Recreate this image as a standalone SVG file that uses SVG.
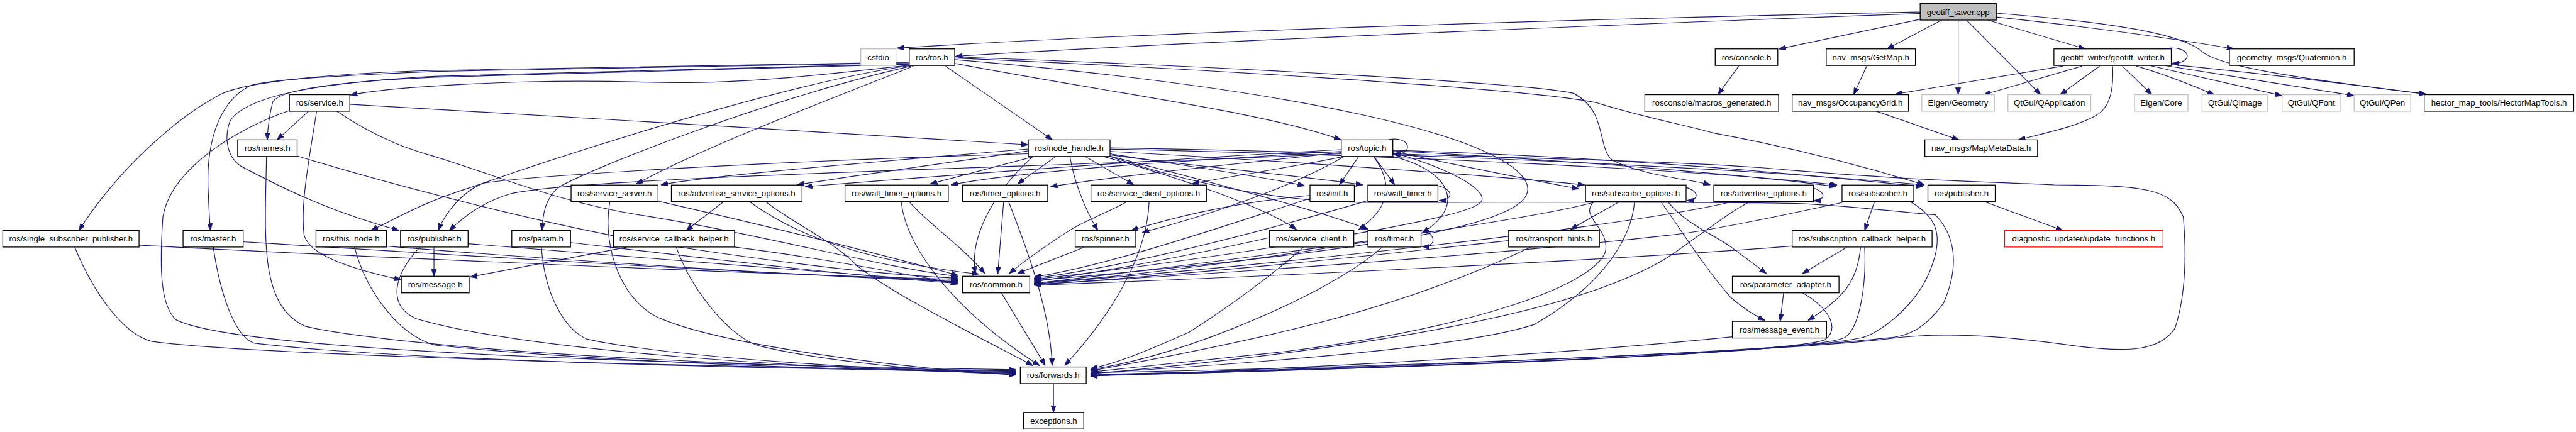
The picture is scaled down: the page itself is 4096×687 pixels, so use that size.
<svg xmlns="http://www.w3.org/2000/svg" width="4096" height="687" viewBox="0 0 4096 687">
<style>
.n rect{fill:#fff;stroke:#000;stroke-width:1.4}
.n.g rect{stroke:#bfbfbf}
.n.r rect{stroke:#ff0000}
.n.root rect{fill:#bfbfbf}
.n text{font-family:"Liberation Sans",Arial,sans-serif;font-size:14.2px;text-anchor:middle;fill:#000}
#edges path{fill:none;stroke:#191970;stroke-width:1.25;marker-end:url(#a)}
</style>
<defs>
<marker id="a" viewBox="0 0 12 9" refX="12" refY="4.5" markerWidth="12" markerHeight="9" markerUnits="userSpaceOnUse" orient="auto"><path d="M0,0L12,4.5L0,9z" fill="#191970" stroke="#191970" stroke-width="0.8"/></marker>
</defs>
<rect width="4096" height="687" fill="#fff"/>
<g transform="scale(0.93324)">
<g id="edges">
<path d="M3271.6,20.5 C2800,30 2000,52 1528,82"/>
<path d="M3271.6,23 C2800,40 2000,72 1628,96"/>
<path d="M3271.6,33 L3031,83.5"/>
<path d="M3308,34.3 L3215,83.3"/>
<path d="M3336.3,34.3 L3336.3,161.3"/>
<path d="M3350.5,34.3 L3477,161.3"/>
<path d="M3387,34.3 L3553,83.3"/>
<path d="M3401.3,29 C3550,45 3700,65 3806,83.3"/>
<path d="M3401.3,22.5 C3620,40 3720,60 3752,88 C3780,112 3900,132 4133,160"/>
<path d="M3699.5,110 C3850,125 4000,143 4133,160.5"/>
<path d="M3682,83.3 C3735,74 3740,108 3701,108"/>
<path d="M3514.6,112.7 L3229,160.5"/>
<path d="M3547.6,112.7 L3380,161.3"/>
<path d="M3577.4,112.7 L3510,161.3"/>
<path d="M3599.5,112.7 C3602,160 3592,185 3571,197 C3540,215 3480,228 3439,238.3"/>
<path d="M3616,112.7 L3666.5,161.3"/>
<path d="M3640,112.7 C3700,130 3745,150 3773,161.3"/>
<path d="M3664,112 L3888,163"/>
<path d="M3690,112 L4011,163"/>
<path d="M2962.5,112.7 L2927,161.3"/>
<path d="M3180.5,112.7 L3158.3,161.3"/>
<path d="M3196,189.3 L3337.6,238.3"/>
<path d="M1549.2,106 C1200,113 900,117 740,120 C560,125 420,140 377.5,160 C300,200 200,290 134.5,392.7"/>
<path d="M1549.2,107 C1200,114 900,118 740,121.7 C600,128 450,135 424.7,146.7 C370,175 350,250 355,330 C356,360 357,375 358.6,392.7"/>
<path d="M1549.2,108.5 C1200,118 900,126 740,130 C560,140 420,160 391.7,206.7 C380,240 390,270 410.6,283.3 C480,320 560,360 680,392.7"/>
<path d="M1549.2,109.5 C1200,120 900,127 740,131.7 C600,138 480,150 464.8,173.3 C458,200 456,220 455.4,238.3"/>
<path d="M1549.2,111 C1400,128 1250,145 1100,140 C950,136 850,140 740,146.7 C680,150 630,156 597,161.7"/>
<path d="M1549.2,112 C1350,140 1000,250 800,320 C720,345 680,370 632,392.7"/>
<path d="M1552,112.7 C1300,170 1000,290 950,320 C930,340 925,360 923.5,392.7"/>
<path d="M1556,112.7 C1400,175 1200,250 1084,313.5"/>
<path d="M1611,112.7 L1793,238.3"/>
<path d="M1626.6,108 C1900,160 2150,190 2285,238.3"/>
<path d="M1626.6,101.7 C2200,150 2560,230 2600,310 C2630,370 2450,420 1762,478"/>
<path d="M1626.6,97 C2000,110 2600,140 2681,159 C2740,190 2720,250 2747,273 C2800,300 2880,305 2914,315"/>
<path d="M1626.6,99 C2000,115 2600,150 2720,175 C2800,200 2880,215 2920,226.7 C3100,260 3230,300 3279,315"/>
<path d="M525.2,190 L472,238.3"/>
<path d="M493.1,188.3 C400,220 290,290 277.5,370 C272,450 272,520 300,545 C380,585 800,615 1731,630"/>
<path d="M539.4,190 C525,280 512,350 518,400 C525,425 560,450 683.8,477"/>
<path d="M596,177.7 C900,195 1400,225 1752,246.7"/>
<path d="M573.4,189.3 C650,240 700,255 740,266.7 C850,300 950,345 1100,368 C1300,400 1500,455 1632,471"/>
<path d="M506.3,265.7 C650,310 950,390 1150,420 C1350,450 1500,468 1632,474"/>
<path d="M454,266.7 C452,400 440,520 520,556 C620,580 1000,620 1731,632"/>
<path d="M236.9,417.7 C500,432 1300,468 1632,476"/>
<path d="M127.4,421.3 C160,500 210,570 259.5,582 C400,600 900,620 1731,633"/>
<path d="M414.3,412 C700,430 1300,468 1632,478"/>
<path d="M363.4,421.3 C375,500 400,575 434,585 C600,605 1000,624 1731,634"/>
<path d="M658.3,419.3 C900,440 1400,472 1632,480"/>
<path d="M604,421.3 C625,500 680,570 740,588 C1000,615 1400,630 1731,635"/>
<path d="M739.4,421.3 L739.4,470.7"/>
<path d="M797.5,415.3 C1000,430 1400,465 1632,481"/>
<path d="M715,421.3 C670,470 660,520 708,542.7 C900,600 1400,630 1731,636"/>
<path d="M972.1,413.3 C1200,440 1450,470 1632,483"/>
<path d="M922.5,421.3 C928,500 960,560 1000,578 C1150,610 1500,630 1731,637"/>
<path d="M1067.4,421.3 L800.8,472"/>
<path d="M1251.5,421 C1400,440 1550,468 1632,484"/>
<path d="M1152.3,421.3 C1180,500 1250,580 1296,590 C1400,615 1600,635 1731,638"/>
<path d="M1121.2,342.7 C1250,372 1450,420 1632,469"/>
<path d="M1039,344 C1025,420 1060,520 1131,545 C1230,585 1500,625 1731,639"/>
<path d="M1232.6,344 L1169,392.7"/>
<path d="M1277.4,344 C1320,375 1420,440 1667.6,467"/>
<path d="M1305,344 C1350,380 1420,410 1460,452.7 C1520,500 1640,560 1760,623"/>
<path d="M1549.7,344 C1580,380 1640,420 1678,466"/>
<path d="M1535.5,344 C1545,430 1640,540 1771.4,623"/>
<path d="M1710,344 L1700,467"/>
<path d="M1718.6,344 C1760,450 1790,540 1792.7,623"/>
<path d="M1920,344 C1880,365 1840,380 1818.6,395 C1780,420 1745,445 1719.5,466"/>
<path d="M1957.8,344 C1955,430 1900,530 1813.9,623"/>
<path d="M1847,421.3 L1733.7,466"/>
<path d="M1706,498.7 L1781,623"/>
<path d="M1795,653.3 L1795,702.7"/>
<path d="M1823,266.7 C1830,310 1850,360 1870.6,392.7"/>
<path d="M1752.1,254 C1500,275 1200,300 1126,315"/>
<path d="M1752.1,257 C1600,280 1450,300 1358,315"/>
<path d="M1762,266.7 L1585,313.3"/>
<path d="M1799,266.7 L1733.7,313.3"/>
<path d="M1849,266.7 L1932,315"/>
<path d="M1752.1,262 C1300,275 900,300 824,312 C790,325 760,360 746.5,392.7"/>
<path d="M1891.3,262 C2000,280 2150,300 2223,316.7"/>
<path d="M1891.3,264 C2050,285 2220,300 2322,315"/>
<path d="M1891.3,258 C2200,275 2550,300 2700,315"/>
<path d="M1891.3,254 C2400,265 2900,290 3130,315"/>
<path d="M1891.3,252 C2500,262 3000,290 3278,315"/>
<path d="M1880,266.7 C2000,300 2150,350 2209,391"/>
<path d="M1891.3,266 C2100,320 2250,360 2331.6,391"/>
<path d="M1760,266.7 C1700,320 1650,400 1662,466"/>
<path d="M1891.3,266.7 C2050,320 2200,345 2330,345 C2600,345 2900,343 3061,346.7 C3150,350 3220,360 3297.5,366 C3330,400 3340,450 3311.7,516 C3280,560 3250,575 3212.6,576 C3000,600 2400,625 1858,639"/>
<path d="M2315,266.7 L2282,315"/>
<path d="M2341,266.7 L2376.4,315"/>
<path d="M2364.6,238.3 C2405,230 2410,265 2374,263"/>
<path d="M2285.3,255 C2000,270 1600,300 1372,318"/>
<path d="M2285.3,258 C2000,275 1750,290 1620,315"/>
<path d="M2285.3,260 C2100,280 1900,300 1790,318"/>
<path d="M2290,266.7 C2200,285 2100,300 2031,313"/>
<path d="M2285.3,262 C1800,285 1000,300 870,330 C820,345 790,370 765.4,392.7"/>
<path d="M2373.1,258 C2500,285 2600,305 2690,321.7"/>
<path d="M2373.1,257 C2700,275 3000,300 3128,318"/>
<path d="M2373.1,256 C2800,270 3100,300 3276,318"/>
<path d="M2340,266.7 C2380,320 2360,360 2315,391"/>
<path d="M2373.1,266.7 C2470,290 2500,350 2423,397"/>
<path d="M2373.1,260 C2480,290 2545,330 2520,347 C2480,380 2000,450 1762,476"/>
<path d="M2373.1,262 C2600,270 2900,275 3050,290 C3300,310 3400,310 3500,315 C3650,316 3700,320 3720,370 C3725,430 3725,500 3706,559 C3680,600 3620,600 3540,590 C3400,570 3300,565 3203,579 C3000,600 2400,625 1858,635"/>
<path d="M2290,266.7 C2200,320 2050,370 1946,396"/>
<path d="M2232,338 C2100,380 1900,450 1762,472"/>
<path d="M2232,333 C2100,345 2000,370 1927,392.7"/>
<path d="M2433,315.3 C2478,315 2480,342 2452,341.7"/>
<path d="M2331,341.7 C2200,380 1950,450 1762,474"/>
<path d="M2162.7,405 C2050,430 1900,460 1762,480"/>
<path d="M2220.7,421.3 C2200,440 2130,500 2026,566 C1950,600 1900,620 1858,628"/>
<path d="M2405,392.7 C2448,388 2452,422 2423,420"/>
<path d="M2355,421.3 C2300,470 2200,520 2100,560 C2000,600 1920,620 1858,630"/>
<path d="M2330.6,412 C2150,440 1950,470 1762,482"/>
<path d="M2570.4,410 C2300,440 2000,470 1762,485"/>
<path d="M2607.6,421.3 C2400,520 2200,570 1858,632"/>
<path d="M2841,315.3 C2898,316 2900,342 2874,341.7"/>
<path d="M2758.6,344 C2740,355 2720,365 2676,391"/>
<path d="M2842,344 C2870,380 2920,400 2948,420 C2975,440 2995,455 3009.7,466"/>
<path d="M2830,344 C2870,400 2900,450 2948,506 C2975,530 2995,540 3007,546"/>
<path d="M2719,344 C2624,370 2300,420 1762,483"/>
<path d="M2715,344 C2690,370 2745,390 2735,430 C2710,490 2500,560 2190,599 C2000,620 1900,630 1858,634"/>
<path d="M2785,344 C2780,400 2740,480 2614,553 C2500,590 2200,615 1858,636"/>
<path d="M3058,315.3 C3115,318 3115,342 3090,342"/>
<path d="M2950,344 C2800,380 2300,440 1762,484"/>
<path d="M2981,344 C2950,360 2930,376 2850,433 C2750,500 2500,580 1858,637"/>
<path d="M3193.7,344 L3177,392.7"/>
<path d="M3139,345 C3024,370 2900,395 2850,400 C2500,440 2000,470 1762,485"/>
<path d="M3255,344 C3300,370 3310,400 3293,449 C3270,520 3200,570 3170,576 C3050,600 2500,625 1858,638"/>
<path d="M3382,344 L3514.6,392.7"/>
<path d="M3146.5,421.3 L3071,466"/>
<path d="M3170,421.3 C3165,480 3140,509 3080.4,546"/>
<path d="M3177,421.3 C3180,480 3170,560 3141.8,576 C3080,600 2500,625 1858,640"/>
<path d="M3053.5,419.3 C2800,440 2200,470 1762,486"/>
<path d="M3039,498.7 L3033,547.7"/>
<path d="M3071,498.7 C3118,526 3135,560 3108.8,579.3 C3050,600 2500,625 1858,640"/>
<path d="M2951.6,574 C2700,600 2300,625 1858,641"/>
</g>
<g id="n-geotiff_saver" class="n root"><rect x="3271.6" y="6" width="129.7" height="28.3"/><text x="3336.45" y="25.2">geotiff_saver.cpp</text></g>
<g id="n-cstdio" class="n g"><rect x="1466.6" y="83.3" width="59.9" height="28.3"/><text x="1496.55" y="102.5">cstdio</text></g>
<g id="n-ros_ros" class="n"><rect x="1549.2" y="83.3" width="77.4" height="28.3"/><text x="1587.9" y="102.5">ros/ros.h</text></g>
<g id="n-ros_console" class="n"><rect x="2922.4" y="83.3" width="106.6" height="28.3"/><text x="2975.7" y="102.5">ros/console.h</text></g>
<g id="n-getmap" class="n"><rect x="3111.6" y="83.3" width="151.9" height="28.3"/><text x="3187.55" y="102.5">nav_msgs/GetMap.h</text></g>
<g id="n-geotiff_writer" class="n"><rect x="3499.5" y="83.3" width="200" height="28.3"/><text x="3599.5" y="102.5">geotiff_writer/geotiff_writer.h</text></g>
<g id="n-quaternion" class="n"><rect x="3798.6" y="83.3" width="212.4" height="28.3"/><text x="3904.8" y="102.5">geometry_msgs/Quaternion.h</text></g>
<g id="n-ros_service" class="n"><rect x="493.1" y="161.3" width="102.9" height="28.3"/><text x="544.55" y="180.5">ros/service.h</text></g>
<g id="n-macros_generated" class="n"><rect x="2802.5" y="161.3" width="227.9" height="28.3"/><text x="2916.45" y="180.5">rosconsole/macros_generated.h</text></g>
<g id="n-occupancygrid" class="n"><rect x="3053.5" y="161.3" width="198.2" height="28.3"/><text x="3152.6" y="180.5">nav_msgs/OccupancyGrid.h</text></g>
<g id="n-eigen_geometry" class="n g"><rect x="3274.4" y="161.3" width="123.6" height="28.3"/><text x="3336.2" y="180.5">Eigen/Geometry</text></g>
<g id="n-qapplication" class="n g"><rect x="3421.2" y="161.3" width="141.1" height="28.3"/><text x="3491.75" y="180.5">QtGui/QApplication</text></g>
<g id="n-eigen_core" class="n g"><rect x="3636.8" y="161.3" width="91.1" height="28.3"/><text x="3682.35" y="180.5">Eigen/Core</text></g>
<g id="n-qimage" class="n g"><rect x="3751.9" y="161.3" width="111.9" height="28.3"/><text x="3807.85" y="180.5">QtGui/QImage</text></g>
<g id="n-qfont" class="n g"><rect x="3888.3" y="161.3" width="100" height="28.3"/><text x="3938.3" y="180.5">QtGui/QFont</text></g>
<g id="n-qpen" class="n g"><rect x="4011" y="161.3" width="96.3" height="28.3"/><text x="4059.15" y="180.5">QtGui/QPen</text></g>
<g id="n-hector" class="n"><rect x="4130.4" y="161.3" width="254.8" height="28.3"/><text x="4257.8" y="180.5">hector_map_tools/HectorMapTools.h</text></g>
<g id="n-ros_names" class="n"><rect x="404.9" y="238.3" width="101.4" height="28.3"/><text x="455.6" y="257.5">ros/names.h</text></g>
<g id="n-ros_node_handle" class="n"><rect x="1752.1" y="238.3" width="139.2" height="28.3"/><text x="1821.7" y="257.5">ros/node_handle.h</text></g>
<g id="n-ros_topic" class="n"><rect x="2285.3" y="238.3" width="87.8" height="28.3"/><text x="2329.2" y="257.5">ros/topic.h</text></g>
<g id="n-mapmetadata" class="n"><rect x="3279.6" y="238.3" width="192" height="28.3"/><text x="3375.6" y="257.5">nav_msgs/MapMetaData.h</text></g>
<g id="n-ros_service_server" class="n"><rect x="973" y="315.3" width="148.2" height="28.3"/><text x="1047.1" y="334.5">ros/service_server.h</text></g>
<g id="n-ros_advertise_service_options" class="n"><rect x="1143.9" y="315.3" width="222.7" height="28.3"/><text x="1255.25" y="334.5">ros/advertise_service_options.h</text></g>
<g id="n-ros_wall_timer_options" class="n"><rect x="1439.7" y="315.3" width="176" height="28.3"/><text x="1527.7" y="334.5">ros/wall_timer_options.h</text></g>
<g id="n-ros_timer_options" class="n"><rect x="1639.8" y="315.3" width="145.3" height="28.3"/><text x="1712.45" y="334.5">ros/timer_options.h</text></g>
<g id="n-ros_service_client_options" class="n"><rect x="1858.7" y="315.3" width="196.8" height="28.3"/><text x="1957.1" y="334.5">ros/service_client_options.h</text></g>
<g id="n-ros_init" class="n"><rect x="2232" y="315.3" width="75.5" height="28.3"/><text x="2269.75" y="334.5">ros/init.h</text></g>
<g id="n-ros_wall_timer" class="n"><rect x="2330.6" y="315.3" width="119.4" height="28.3"/><text x="2390.3" y="334.5">ros/wall_timer.h</text></g>
<g id="n-ros_subscribe_options" class="n"><rect x="2701.5" y="315.3" width="171.3" height="28.3"/><text x="2787.15" y="334.5">ros/subscribe_options.h</text></g>
<g id="n-ros_advertise_options" class="n"><rect x="2920" y="315.3" width="169.9" height="28.3"/><text x="3004.95" y="334.5">ros/advertise_options.h</text></g>
<g id="n-ros_subscriber" class="n"><rect x="3138.5" y="315.3" width="122.2" height="28.3"/><text x="3199.6" y="334.5">ros/subscriber.h</text></g>
<g id="n-ros_publisher_e" class="n"><rect x="3284.8" y="315.3" width="114.7" height="28.3"/><text x="3342.15" y="334.5">ros/publisher.h</text></g>
<g id="n-ros_single_subscriber_publisher" class="n"><rect x="4.7" y="392.7" width="232.2" height="28.3"/><text x="120.8" y="411.9">ros/single_subscriber_publisher.h</text></g>
<g id="n-ros_master" class="n"><rect x="311.9" y="392.7" width="102.4" height="28.3"/><text x="363.1" y="411.9">ros/master.h</text></g>
<g id="n-ros_this_node" class="n"><rect x="538.4" y="392.7" width="119.9" height="28.3"/><text x="598.35" y="411.9">ros/this_node.h</text></g>
<g id="n-ros_publisher_f" class="n"><rect x="682.4" y="392.7" width="115.1" height="28.3"/><text x="739.95" y="411.9">ros/publisher.h</text></g>
<g id="n-ros_param" class="n"><rect x="872" y="392.7" width="100.1" height="28.3"/><text x="922.05" y="411.9">ros/param.h</text></g>
<g id="n-ros_service_callback_helper" class="n"><rect x="1045.2" y="392.7" width="206.3" height="28.3"/><text x="1148.35" y="411.9">ros/service_callback_helper.h</text></g>
<g id="n-ros_spinner" class="n"><rect x="1831.9" y="392.7" width="103.3" height="28.3"/><text x="1883.55" y="411.9">ros/spinner.h</text></g>
<g id="n-ros_service_client" class="n"><rect x="2162.7" y="392.7" width="143.9" height="28.3"/><text x="2234.65" y="411.9">ros/service_client.h</text></g>
<g id="n-ros_timer" class="n"><rect x="2330.6" y="392.7" width="90.6" height="28.3"/><text x="2375.9" y="411.9">ros/timer.h</text></g>
<g id="n-ros_transport_hints" class="n"><rect x="2570.4" y="392.7" width="154.7" height="28.3"/><text x="2647.75" y="411.9">ros/transport_hints.h</text></g>
<g id="n-ros_subscription_callback_helper" class="n"><rect x="3053.5" y="392.7" width="238.4" height="28.3"/><text x="3172.7" y="411.9">ros/subscription_callback_helper.h</text></g>
<g id="n-diagnostic_update_functions" class="n r"><rect x="3415.5" y="392.7" width="269.9" height="28.3"/><text x="3550.45" y="411.9">diagnostic_updater/update_functions.h</text></g>
<g id="n-ros_message" class="n"><rect x="683.8" y="470.7" width="115.6" height="28.3"/><text x="741.6" y="489.9">ros/message.h</text></g>
<g id="n-ros_common" class="n"><rect x="1639.8" y="470.7" width="114.7" height="28.3"/><text x="1697.15" y="489.9">ros/common.h</text></g>
<g id="n-ros_parameter_adapter" class="n"><rect x="2951.6" y="470.7" width="181.7" height="28.3"/><text x="3042.45" y="489.9">ros/parameter_adapter.h</text></g>
<g id="n-ros_message_event" class="n"><rect x="2951.6" y="547.7" width="160.5" height="28.3"/><text x="3031.85" y="566.9">ros/message_event.h</text></g>
<g id="n-ros_forwards" class="n"><rect x="1738.4" y="625.3" width="112.3" height="28.3"/><text x="1794.55" y="644.5">ros/forwards.h</text></g>
<g id="n-exceptions" class="n"><rect x="1744.1" y="702.7" width="102.4" height="28.3"/><text x="1795.3" y="721.9">exceptions.h</text></g>
</g>
</svg>
